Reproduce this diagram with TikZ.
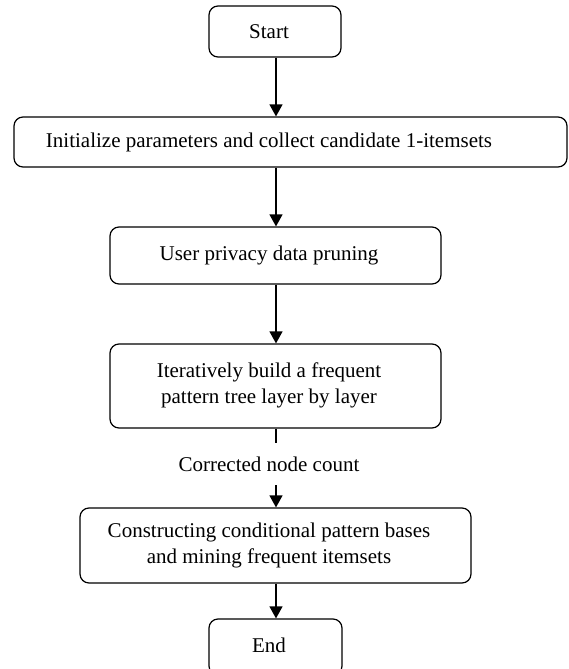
\documentclass[tikz,border=0pt]{standalone}
\usepackage{fontspec}
\setmainfont{Liberation Serif}
\usetikzlibrary{arrows.meta}
\begin{document}
\begin{tikzpicture}[x=1pt,y=1pt,
  box/.style={draw, line width=1.2pt, rounded corners=9pt, inner sep=0pt},
  lbl/.style={font=\fontsize{21}{26}\selectfont, align=center, inner sep=0pt},
  conn/.style={line width=1.2pt, -{Triangle[length=12pt,width=13pt]}}]
\useasboundingbox (0,0) rectangle (568,-669);
\node[box, minimum width=132pt, minimum height=51pt] (start) at (275,-31.5) {};
\node[lbl] (starttxt) at (269,-32) {Start};
\node[box, minimum width=553pt, minimum height=50pt] (init) at (290.5,-142) {};
\node[lbl] (inittxt) at (269,-142) {Initialize parameters and collect candidate 1-itemsets};
\node[box, minimum width=331pt, minimum height=57pt] (priv) at (275.5,-255.5) {};
\node[lbl] (privtxt) at (269,-255.5) {User privacy data pruning};
\node[box, minimum width=331pt, minimum height=84pt] (iter) at (275.5,-386) {};
\node[lbl] (itertxt) at (269,-385) {Iteratively build a frequent\\pattern tree layer by layer};
\node[lbl] (corr) at (269,-464) {Corrected node count};
\node[box, minimum width=391pt, minimum height=75pt] (cons) at (275.5,-545.5) {};
\node[lbl] (constxt) at (269,-545) {Constructing conditional pattern bases\\and mining frequent itemsets};
\node[box, minimum width=133pt, minimum height=56pt] (end) at (275.5,-647) {};
\node[lbl] (endtxt) at (269,-645) {End};
\coordinate (c1) at (276,-443);
\coordinate (c2) at (276,-485);
\draw[conn] (start.south -| c1) -- (init.north -| c1);
\draw[conn] (init.south -| c1) -- (priv.north -| c1);
\draw[conn] (priv.south -| c1) -- (iter.north -| c1);
\draw[line width=1.2pt] (iter.south -| c1) -- (c1);
\draw[conn] (c2) -- (cons.north -| c2);
\draw[conn] (cons.south -| c1) -- (end.north -| c1);
\end{tikzpicture}
\end{document}
